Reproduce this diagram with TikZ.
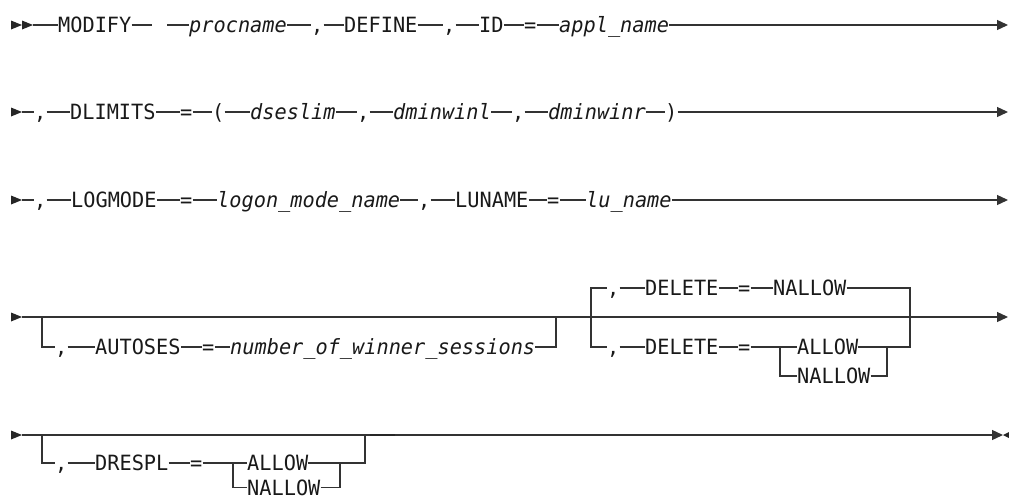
\documentclass[tikz,border=0pt]{standalone}
\usepackage{fontspec}
\newfontfamily\mono[FakeStretch=0.965,ItalicFont={DejaVu Sans Mono Oblique}]{DejaVu Sans Mono}
\usetikzlibrary{arrows.meta}
\begin{document}
\begin{tikzpicture}[x=1pt,y=-1pt,
  tok/.style={anchor=west,inner sep=0pt,text height=15.3pt,text depth=0pt,
    font=\mono\fontsize{21}{23}\selectfont,text=black!90},
  var/.style={tok,font=\mono\itshape\fontsize{21}{23}\selectfont},
  ln/.style={draw=black!80,line width=1.3pt},
  arr/.style={ln,-{Triangle[length=11pt,width=10pt]}},
  head/.style={fill=black!85}]
\useasboundingbox (0,0) rectangle (1009,498);

% ---------- Row 1 ----------
\fill[head] (11,20.5) -- (22,25) -- (11,29.5) -- cycle;
\fill[head] (22,20.5) -- (33,25) -- (22,29.5) -- cycle;
\coordinate (a0) at (33,25);
\node[tok] (a1) at (58,25) {MODIFY};
\coordinate (g1) at (152,25);
\coordinate (g2) at (167,25);
\node[var] (a2) at (189,25) {procname};
\node[tok] (a3) at (311,25) {,};
\node[tok] (a4) at (344,25) {DEFINE};
\node[tok] (a5) at (443,25) {,};
\node[tok] (a6) at (479,25) {ID};
\node[tok] (a7) at (524,25) {=};
\node[var] (a8) at (559,25) {appl\_name};
\coordinate (ae) at (1008,25);
\draw[ln] (a0) -- (a1.west);
\draw[ln] (a1.east) -- (g1);
\draw[ln] (g2) -- (a2.west);
\draw[ln] (a2.east) -- (a3.west);
\draw[ln] (a3.east) -- (a4.west);
\draw[ln] (a4.east) -- (a5.west);
\draw[ln] (a5.east) -- (a6.west);
\draw[ln] (a6.east) -- (a7.west);
\draw[ln] (a7.east) -- (a8.west);
\draw[arr] (a8.east) -- (ae);

% ---------- Row 2 ----------
\fill[head] (11,107.5) -- (22,112) -- (11,116.5) -- cycle;
\coordinate (b0) at (22,112);
\node[tok] (b1) at (34,112) {,};
\node[tok] (b2) at (70,112) {DLIMITS};
\node[tok] (b3) at (180,112) {=};
\node[tok] (b4) at (212,112) {(};
\node[var] (b5) at (250,112) {dseslim};
\node[tok] (b6) at (357,112) {,};
\node[var] (b7) at (393,112) {dminwinl};
\node[tok] (b8) at (512,112) {,};
\node[var] (b9) at (548,112) {dminwinr};
\node[tok] (b10) at (665,112) {)};
\coordinate (be) at (1008,112);
\draw[ln] (b0) -- (b1.west);
\draw[ln] (b1.east) -- (b2.west);
\draw[ln] (b2.east) -- (b3.west);
\draw[ln] (b3.east) -- (b4.west);
\draw[ln] (b4.east) -- (b5.west);
\draw[ln] (b5.east) -- (b6.west);
\draw[ln] (b6.east) -- (b7.west);
\draw[ln] (b7.east) -- (b8.west);
\draw[ln] (b8.east) -- (b9.west);
\draw[ln] (b9.east) -- (b10.west);
\draw[arr] (b10.east) -- (be);

% ---------- Row 3 ----------
\fill[head] (11,195.5) -- (22,200) -- (11,204.5) -- cycle;
\coordinate (c0) at (22,200);
\node[tok] (c1) at (34,200) {,};
\node[tok] (c2) at (71,200) {LOGMODE};
\node[tok] (c3) at (180,200) {=};
\node[var] (c4) at (217,200) {logon\_mode\_name};
\node[tok] (c5) at (418,200) {,};
\node[tok] (c6) at (455,200) {LUNAME};
\node[tok] (c7) at (547,200) {=};
\node[var] (c8) at (586,200) {lu\_name};
\coordinate (ce) at (1008,200);
\draw[ln] (c0) -- (c1.west);
\draw[ln] (c1.east) -- (c2.west);
\draw[ln] (c2.east) -- (c3.west);
\draw[ln] (c3.east) -- (c4.west);
\draw[ln] (c4.east) -- (c5.west);
\draw[ln] (c5.east) -- (c6.west);
\draw[ln] (c6.east) -- (c7.west);
\draw[ln] (c7.east) -- (c8.west);
\draw[arr] (c8.east) -- (ce);

% ---------- Row 4 ----------
\fill[head] (11,312.5) -- (22,317) -- (11,321.5) -- cycle;
\coordinate (d0) at (22,317);
\coordinate (de) at (1008,317);
\draw[arr] (d0) -- (de);
% AUTOSES branch
\coordinate (dA1) at (42,317);
\coordinate (dA3) at (556,317);
\node[tok] (d1) at (55,347) {,};
\node[tok] (d2) at (95,347) {AUTOSES};
\node[tok] (d3) at (202,347) {=};
\node[var] (d4) at (230,347) {number\_of\_winner\_sessions};
\draw[ln] (dA1) |- (d1.west);
\draw[ln] (d1.east) -- (d2.west);
\draw[ln] (d2.east) -- (d3.west);
\draw[ln] (d3.east) -- (d4.west);
\draw[ln] (d4.east) -| (dA3);
% DELETE block
\coordinate (L1) at (591,317);
\coordinate (R1) at (910,317);
\node[tok] (t1) at (607,288) {,};
\node[tok] (t2) at (645,288) {DELETE};
\node[tok] (t3) at (738,288) {=};
\node[tok] (t4) at (773,288) {NALLOW};
\draw[ln] (L1) |- (t1.west);
\draw[ln] (t1.east) -- (t2.west);
\draw[ln] (t2.east) -- (t3.west);
\draw[ln] (t3.east) -- (t4.west);
\draw[ln] (t4.east) -| (R1);
\node[tok] (u1) at (607,347) {,};
\node[tok] (u2) at (645,347) {DELETE};
\node[tok] (u3) at (738,347) {=};
\coordinate (V1) at (780,347);
\node[tok] (u4) at (797,347) {ALLOW};
\node[tok] (u5) at (797,376) {NALLOW};
\coordinate (V2) at (887,347);
\draw[ln] (L1) |- (u1.west);
\draw[ln] (u1.east) -- (u2.west);
\draw[ln] (u2.east) -- (u3.west);
\draw[ln] (u3.east) -- (u4.west);
\draw[ln] (V1) |- (u5.west);
\draw[ln] (u4.east) -| (R1);
\draw[ln] (u5.east) -| (V2);

% ---------- Row 5 ----------
\fill[head] (11,430.5) -- (22,435) -- (11,439.5) -- cycle;
\coordinate (e0) at (22,435);
\coordinate (ee) at (1003,435);
\draw[arr] (e0) -- (ee);
\draw[draw=black!85,line width=2.4pt] (370,435) -- (395,435);
\fill[head] (1009,432) -- (1003,435) -- (1009,438) -- cycle;
\coordinate (eA) at (42,435);
\coordinate (eB) at (365,435);
\node[tok] (f1) at (55,463) {,};
\node[tok] (f2) at (95,463) {DRESPL};
\node[tok] (f3) at (190,463) {=};
\coordinate (W1) at (233,463);
\node[tok] (f4) at (247,463) {ALLOW};
\node[tok] (f5) at (247,487.5) {NALLOW};
\coordinate (W2) at (340,463);
\draw[ln] (eA) |- (f1.west);
\draw[ln] (f1.east) -- (f2.west);
\draw[ln] (f2.east) -- (f3.west);
\draw[ln] (f3.east) -- (f4.west);
\draw[ln] (W1) |- (f5.west);
\draw[ln] (f4.east) -| (eB);
\draw[ln] (f5.east) -| (W2);
\end{tikzpicture}
\end{document}
